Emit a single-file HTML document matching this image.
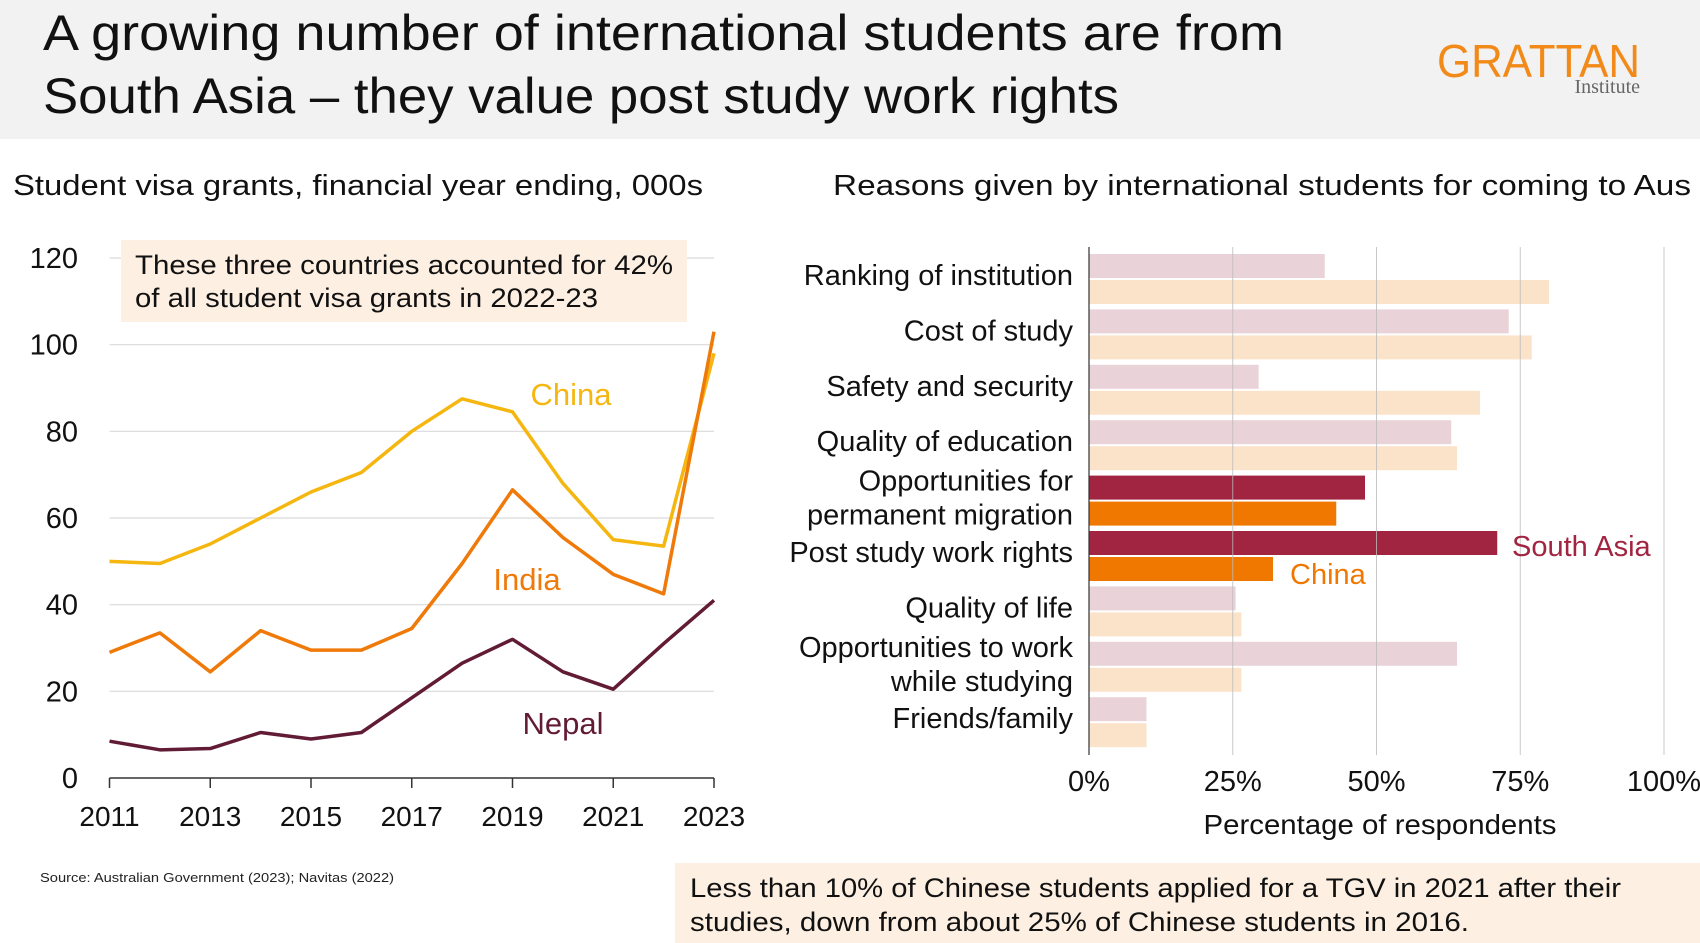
<!DOCTYPE html>
<html><head><meta charset="utf-8">
<style>
body{margin:0;width:1700px;height:943px;overflow:hidden;background:#fff;font-family:"Liberation Sans",sans-serif;}
svg{display:block}
</style></head>
<body>
<svg width="1700" height="943" viewBox="0 0 1700 943">
<rect x="0" y="0" width="1700" height="139" fill="#f2f2f2"/>
<text x="43" y="50" font-size="50" fill="#111" textLength="1241" lengthAdjust="spacingAndGlyphs">A growing number of international students are from</text>
<text x="43" y="113" font-size="50" fill="#111" textLength="1076" lengthAdjust="spacingAndGlyphs">South Asia – they value post study work rights</text>
<text x="1437" y="77" font-size="46" fill="#f28a1a" textLength="203" lengthAdjust="spacingAndGlyphs">GRATTAN</text>
<text x="1640" y="93" font-size="20" fill="#666" text-anchor="end" font-family="Liberation Serif,serif">Institute</text>
<text x="13" y="195" font-size="29" fill="#111" textLength="690" lengthAdjust="spacingAndGlyphs">Student visa grants, financial year ending, 000s</text>
<text x="833" y="195" font-size="29" fill="#111" textLength="858" lengthAdjust="spacingAndGlyphs">Reasons given by international students for coming to Aus</text>
<g id="left"></g>
<g id="right"></g>
<text x="40" y="882" font-size="13" fill="#222" textLength="354" lengthAdjust="spacingAndGlyphs">Source: Australian Government (2023); Navitas (2022)</text>
<rect x="675" y="863" width="1025" height="80" fill="#fdf0e3"/>
<text x="690" y="897" font-size="27" fill="#111" textLength="931" lengthAdjust="spacingAndGlyphs">Less than 10% of Chinese students applied for a TGV in 2021 after their</text>
<text x="690" y="931" font-size="27" fill="#111" textLength="779" lengthAdjust="spacingAndGlyphs">studies, down from about 25% of Chinese students in 2016.</text>
</svg>
<script>
const years=[2011,2012,2013,2014,2015,2016,2017,2018,2019,2020,2021,2022,2023];
const yTicks=[0,20,40,60,80,100,120];
const xTickYears=[2011,2013,2015,2017,2019,2021,2023];
const china=[50,49.5,54,60,66,70.5,80,87.5,84.5,68,55,53.5,98];
const india=[29,33.5,24.5,34,29.5,29.5,34.5,49.5,66.5,55.5,47,42.5,103];
const nepal=[8.5,6.5,6.8,10.5,9,10.5,18.5,26.5,32,24.5,20.5,31,41];

const categories=["Ranking of institution","Cost of study","Safety and security","Quality of education","Opportunities for|permanent migration","Post study work rights","Quality of life","Opportunities to work|while studying","Friends/family"];
const southAsia=[41,73,29.5,63,48,71,25.5,64,10];
const chinaReasons=[80,77,68,64,43,32,26.5,26.5,10];
const pctTicks=[0,25,50,75,100];
const highlight=[4,5];

const NS="http://www.w3.org/2000/svg";
function mk(tag,attrs,parent,txt){const e=document.createElementNS(NS,tag);for(const k in attrs)e.setAttribute(k,attrs[k]);if(txt!==undefined)e.textContent=txt;parent.appendChild(e);return e;}

// left chart
const L=document.getElementById('left');
const xs=y=>109.5+(y-2011)*(714-109.5)/12;
const ys=v=>778-v*(520/120);
yTicks.forEach(t=>{
  if(t>0){const g=mk('line',{x1:109.5,x2:714,y1:ys(t),y2:ys(t),stroke:'#d9d9d9','stroke-width':1.2},L);
  
  }
  const l=mk('text',{x:78,y:ys(t)+10,'font-size':29,'text-anchor':'end',fill:'#111'},L,String(t));
  
  
});
const ax=mk('line',{x1:109.5,x2:714,y1:778,y2:778,stroke:'#333','stroke-width':1.5},L);


xTickYears.forEach(y=>{
  const tk=mk('line',{x1:xs(y),x2:xs(y),y1:778,y2:788,stroke:'#333','stroke-width':1.5},L);
  
  
  const l=mk('text',{x:xs(y),y:826,'font-size':28,'text-anchor':'middle',fill:'#111'},L,String(y));
  
  
});
const box=mk('rect',{x:121,y:240,width:566,height:82,fill:'#fdf0e3'},L);


const a1=mk('text',{x:135,y:274,'font-size':27,fill:'#111',textLength:538,lengthAdjust:'spacingAndGlyphs'},L,'These three countries accounted for 42%');


const a2=mk('text',{x:135,y:307,'font-size':27,fill:'#111',textLength:463,lengthAdjust:'spacingAndGlyphs'},L,'of all student visa grants in 2022-23');


function series(vals,color,name){
  const p=mk('polyline',{points:vals.map((v,i)=>xs(years[i])+','+ys(v)).join(' '),fill:'none',stroke:color,'stroke-width':3.5,'stroke-linejoin':'round'},L);
  
  
}
series(nepal,'#621b35','nepal-line');
series(china,'#f5b60f','china-line');
series(india,'#ef7a0a','india-line');
[['China',571,405,'#f5b60f','china-label'],['India',527,590,'#ef7a0a','india-label'],['Nepal',563,734,'#621b35','nepal-label']].forEach(d=>{
  const t=mk('text',{x:d[1],y:d[2],'font-size':31,'text-anchor':'middle',fill:d[3]},L,d[0]);
  
  
});

// right chart
const R=document.getElementById('right');
const px=v=>1089+v*(1664-1089)/100;
const rowTop=i=>254+i*55.4;
const bh=24;
categories.forEach((c,i)=>{
  const hl=highlight.includes(i);
  const b1=mk('rect',{x:px(0),y:rowTop(i),width:px(southAsia[i])-px(0),height:bh,fill:hl?'#a12540':'#ead3d8'},R);
  
  
  const b2=mk('rect',{x:px(0),y:rowTop(i)+bh+2,width:px(chinaReasons[i])-px(0),height:bh,fill:hl?'#f07800':'#fbe3ca'},R);
  
  
  const cy=rowTop(i)+bh+1;
  const lines=c.split('|');
  lines.forEach((ln,j)=>{
    const off=lines.length===1?6:(j===0?-10:24);
    const t=mk('text',{x:1073,y:cy+off,'font-size':29,'text-anchor':'end',fill:'#111'},R,ln);
    
    
  });
});
pctTicks.forEach(t=>{
  if(t>0){const g=mk('line',{x1:px(t),x2:px(t),y1:247,y2:755,stroke:'#bbb','stroke-width':1,opacity:0.8},R);
  
  }
  const l=mk('text',{x:px(t),y:791,'font-size':29,'text-anchor':'middle',fill:'#111'},R,t+'%');
  
  
});
const yax=mk('line',{x1:px(0),x2:px(0),y1:247,y2:755,stroke:'#333','stroke-width':1.2},R);


const xt=mk('text',{x:1380,y:834,'font-size':28,'text-anchor':'middle',fill:'#111',textLength:353,lengthAdjust:'spacingAndGlyphs'},R,'Percentage of respondents');


const sl=mk('text',{x:1512,y:556,'font-size':29,'text-anchor':'start',fill:'#a12540'},R,'South Asia');


const cl=mk('text',{x:1290,y:584,'font-size':29,fill:'#f07800'},R,'China');


</script>
</body></html>
